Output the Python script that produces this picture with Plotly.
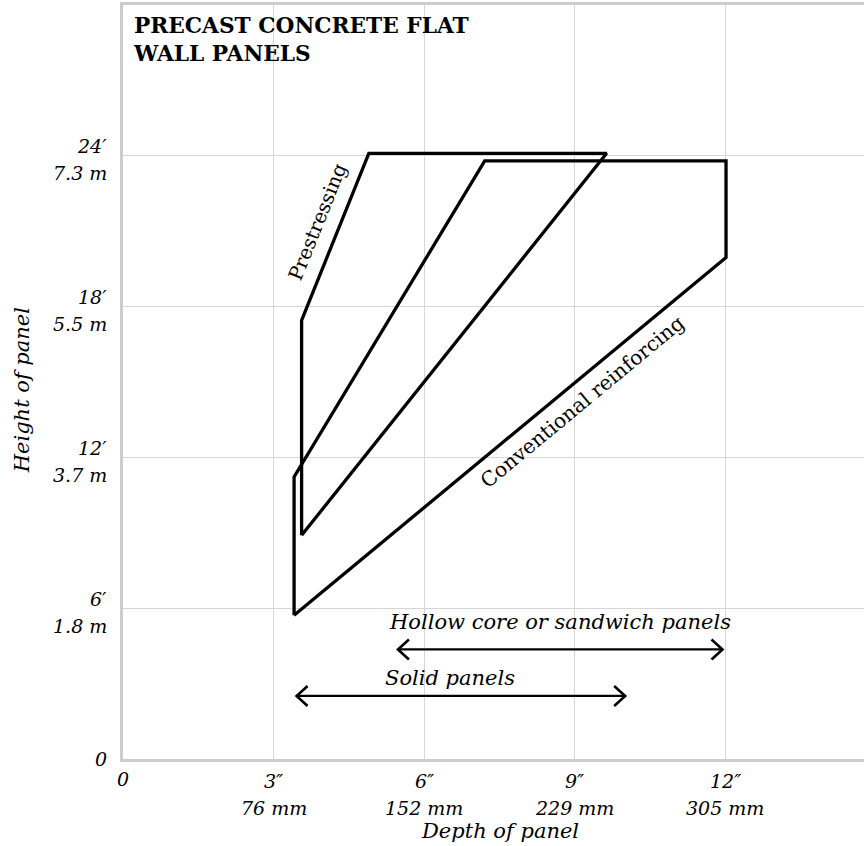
import plotly.graph_objects as go

# ---------------- data ----------------
pre_x = [3.56, 3.56, 4.90, 9.64, 3.56]
pre_y = [8.90, 17.45, 24.10, 24.10, 8.90]

conv_x = [3.41, 3.41, 7.21, 12.02, 12.02, 3.41]
conv_y = [5.72, 11.22, 23.80, 23.80, 19.95, 5.72]

hollow_x = [5.48, 11.95]
hollow_y = [4.36, 4.36]
solid_x = [3.46, 10.01]
solid_y = [2.51, 2.51]

x_ticks = [3, 6, 9, 12]
x_tick_in = ["3″", "6″", "9″", "12″"]
x_tick_mm = ["76 mm", "152 mm", "229 mm", "305 mm"]

y_ticks = [6, 12, 18, 24]
y_tick_ft = ["6′", "12′", "18′", "24′"]
y_tick_m = ["1.8 m", "3.7 m", "5.5 m", "7.3 m"]

# ---------------- figure ----------------
SERIF = "DejaVu Serif"
ITAL = dict(family=SERIF, size=19, color="#000000", style="italic")
ITAL_L = dict(family=SERIF, size=21, color="#000000", style="italic")

fig = go.Figure()
fig.add_trace(go.Scatter(x=conv_x, y=conv_y, mode="lines",
                         line=dict(color="black", width=3.3), hoverinfo="skip"))
fig.add_trace(go.Scatter(x=pre_x, y=pre_y, mode="lines",
                         line=dict(color="black", width=3.3), hoverinfo="skip"))
fig.add_trace(go.Scatter(x=hollow_x, y=hollow_y, mode="lines",
                         line=dict(color="black", width=2.2), hoverinfo="skip"))
fig.add_trace(go.Scatter(x=solid_x, y=solid_y, mode="lines",
                         line=dict(color="black", width=2.2), hoverinfo="skip"))

shapes = []
for xs, ys in [(hollow_x, hollow_y), (solid_x, solid_y)]:
    shapes.append(dict(type="path", xref="x", yref="y", xsizemode="pixel", ysizemode="pixel",
                       xanchor=xs[0], yanchor=ys[0], path="M 11,10 L 0,0 L 11,-10",
                       line=dict(color="black", width=2.6)))
    shapes.append(dict(type="path", xref="x", yref="y", xsizemode="pixel", ysizemode="pixel",
                       xanchor=xs[1], yanchor=ys[1], path="M -11,10 L 0,0 L -11,-10",
                       line=dict(color="black", width=2.6)))

ann = []
# y tick labels
for v, ft, m in zip(y_ticks, y_tick_ft, y_tick_m):
    ann.append(dict(x=0, xref="paper", y=v, yref="y", text=ft, showarrow=False,
                    xanchor="right", yanchor="middle", xshift=-14, yshift=9.5, font=ITAL))
    ann.append(dict(x=0, xref="paper", y=v, yref="y", text=m, showarrow=False,
                    xanchor="right", yanchor="middle", xshift=-14, yshift=-17.5, font=ITAL))
ann.append(dict(x=0, xref="paper", y=0, yref="y", text="0", showarrow=False,
                xanchor="right", yanchor="middle", xshift=-14, yshift=0, font=ITAL))
# x tick labels
for v, inch, mm in zip(x_ticks, x_tick_in, x_tick_mm):
    ann.append(dict(x=v, xref="x", y=0, yref="paper", text=inch, showarrow=False,
                    xanchor="center", yanchor="middle", yshift=-22, font=ITAL))
    ann.append(dict(x=v, xref="x", y=0, yref="paper", text=mm, showarrow=False,
                    xanchor="center", yanchor="middle", yshift=-49, font=ITAL))
ann.append(dict(x=0, xref="x", y=0, yref="paper", text="0", showarrow=False,
                xanchor="center", yanchor="middle", yshift=-20, font=ITAL))
# axis titles
ann.append(dict(x=0, xref="paper", y=0.489, yref="paper", text="Height of panel",
                showarrow=False, textangle=-90, xanchor="center", yanchor="middle",
                xshift=-101, font=ITAL_L))
ann.append(dict(x=0.509, xref="paper", y=0, yref="paper", text="Depth of panel",
                showarrow=False, xanchor="center", yanchor="middle", yshift=-72, font=ITAL_L))
# title
ann.append(dict(x=0, xref="paper", y=1, yref="paper",
                text="PRECAST CONCRETE FLAT<br>WALL PANELS", showarrow=False,
                xanchor="left", yanchor="top", align="left", xshift=8, yshift=-6,
                font=dict(family=SERIF, size=21.7, color="black", weight="bold")))
# region labels
ann.append(dict(x=3.89, xref="x", y=21.37, yref="y", text="Prestressing", showarrow=False,
                textangle=-68, xanchor="center", yanchor="middle",
                font=dict(family=SERIF, size=19.5, color="black")))
ann.append(dict(x=9.15, xref="x", y=14.2, yref="y", text="Conventional reinforcing",
                showarrow=False, textangle=-39.6, xanchor="center", yanchor="middle",
                font=dict(family=SERIF, size=20.3, color="black")))
# arrow labels
ann.append(dict(x=8.71, xref="x", y=5.45, yref="y", text="Hollow core or sandwich panels",
                showarrow=False, xanchor="center", yanchor="middle", font=ITAL_L))
ann.append(dict(x=6.52, xref="x", y=3.22, yref="y", text="Solid panels",
                showarrow=False, xanchor="center", yanchor="middle", font=ITAL_L))

fig.update_layout(
    width=864, height=846,
    margin=dict(l=123, r=0, t=5, b=87, pad=0),
    paper_bgcolor="white", plot_bgcolor="white",
    showlegend=False,
    shapes=shapes, annotations=ann,
    xaxis=dict(range=[0, 14.77], tickvals=x_ticks, showticklabels=False, ticks="",
               showgrid=True, gridcolor="#d6d6d6", gridwidth=1, zeroline=False,
               showline=True, linecolor="#cccccc", linewidth=3, mirror=True, fixedrange=True),
    yaxis=dict(range=[0, 30], tickvals=y_ticks, showticklabels=False, ticks="",
               showgrid=True, gridcolor="#d6d6d6", gridwidth=1, zeroline=False,
               showline=True, linecolor="#cccccc", linewidth=3, mirror=False, fixedrange=True),
)

fig.write_html("out.html", config={"displayModeBar": False, "staticPlot": True},
               post_script="document.body.style.margin='0';document.body.style.overflow='hidden';")
